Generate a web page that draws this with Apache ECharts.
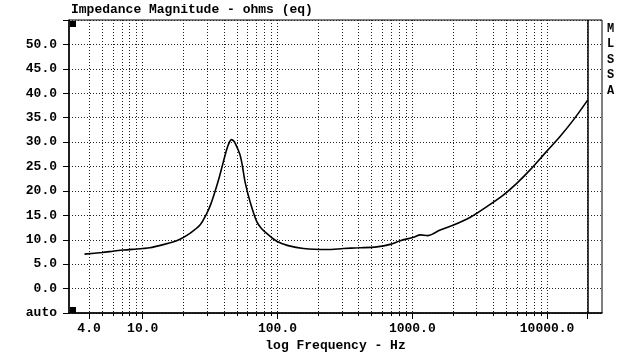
<!DOCTYPE html>
<html>
<head>
<meta charset="utf-8">
<script src="https://cdn.jsdelivr.net/npm/echarts@6/dist/echarts.min.js"></script>
<style>html,body{margin:0;padding:0;background:#fff}#c{width:637px;height:363px}</style>
</head>
<body>
<div id="c"></div>
<script>
const freqHz = [3.7, 5, 6, 7.2, 9, 10, 11.3, 14.2, 17, 18.9, 22.4, 26.6, 29.9, 32, 34.4, 37, 39.7, 42, 44, 45.5, 47, 48.5, 52.7, 55, 57.4, 62.6, 70.2, 76, 83.2, 98.8, 120, 156, 232, 309, 400, 545, 686, 814, 1020, 1150, 1300, 1400, 1611, 2023, 2692, 3580, 4757, 5980, 7420, 9920, 12520, 15740, 20000];
const ohms = [7.05, 7.4, 7.65, 7.9, 8.1, 8.2, 8.35, 9.0, 9.6, 10.1, 11.3, 13.0, 15.4, 17.3, 19.9, 22.8, 26.0, 28.5, 30.0, 30.5, 30.3, 29.8, 27.4, 25.0, 21.9, 17.8, 13.7, 12.3, 11.3, 9.7, 8.8, 8.2, 8.0, 8.2, 8.35, 8.55, 9.05, 9.8, 10.5, 11.0, 10.85, 11.1, 12.0, 13.0, 14.6, 16.8, 19.2, 21.6, 24.2, 28.1, 31.2, 34.6, 38.6];
const gridFreqs = [4,5,6,7,8,9,10,20,30,40,50,60,70,80,90,100,200,300,400,500,600,700,800,900,1000,2000,3000,4000,5000,6000,7000,8000,9000,10000,20000];
const majorTickFreqs = [4,10,100,1000,10000,20000];
const xLabelFreqs = [4,10,100,1000,10000];
const yTicks = [-5,0,5,10,15,20,25,30,35,40,45,50,55];
const endFreq = 20000;

const FONT = 'Liberation Mono';
const chart = echarts.init(document.getElementById('c'), null, {renderer: 'canvas'});
const xMin = 2.84, xMax = 25550;
chart.setOption({
  animation: false,
  backgroundColor: '#fff',
  title: {
    text: 'Impedance Magnitude - ohms (eq)',
    left: 71, top: 3, padding: 0,
    textStyle: {fontFamily: FONT, fontWeight: 'bold', fontSize: 13, color: '#000'}
  },
  grid: {left: 69, right: 35, top: 20, bottom: 50, show: true, borderColor: '#000', borderWidth: 1, containLabel: false, outerBoundsMode: 'none'},
  xAxis: [{
    type: 'log', min: xMin, max: xMax,
    axisLine: {show: true, onZero: false, lineStyle: {color: '#000', width: 1.5}},
    axisTick: {show: true, inside: false, length: 3, customValues: gridFreqs, lineStyle: {color: '#000'}},
    axisLabel: {show: false},
    splitLine: {show: true, lineStyle: {color: '#222', type: [1, 2], width: 1}},
    minorTick: {show: false}, minorSplitLine: {show: false},
    name: 'log Frequency - Hz', nameLocation: 'middle', nameGap: 26,
    nameTextStyle: {fontFamily: FONT, fontWeight: 'bold', fontSize: 13, color: '#000'}
  }, {
    type: 'log', min: xMin, max: xMax, position: 'bottom',
    axisLine: {show: false, onZero: false},
    axisTick: {show: true, length: 6, customValues: majorTickFreqs, lineStyle: {color: '#000'}},
    axisLabel: {show: true, customValues: xLabelFreqs, margin: 9, formatter: v => Number(v).toFixed(1),
      fontFamily: FONT, fontWeight: 'bold', fontSize: 13, color: '#000'},
    splitLine: {show: false}
  }],
  yAxis: {
    type: 'value', min: -5, max: 55, interval: 5,
    axisLine: {show: true, onZero: false, lineStyle: {color: '#000', width: 1.5}},
    axisTick: {show: true, length: 6, customValues: yTicks, lineStyle: {color: '#000'}},
    axisLabel: {margin: 12, fontFamily: FONT, fontWeight: 'bold', fontSize: 13, color: '#000',
      formatter: v => v === -5 ? 'auto' : (v === 55 ? '' : v.toFixed(1))},
    splitLine: {show: true, lineStyle: {color: '#222', type: [1, 2], width: 1}}
  },
  series: [{
    type: 'line', xAxisIndex: 0,
    data: freqHz.map((f, i) => [f, ohms[i]]),
    showSymbol: false, smooth: 0.3,
    lineStyle: {color: '#000', width: 1.6},
    markLine: {silent: true, symbol: 'none', label: {show: false},
      lineStyle: {color: '#000', type: 'solid', width: 1.5},
      data: [{xAxis: endFreq}]}
  }],
  graphic: [
    {type: 'rect', left: 70, top: 21, shape: {width: 6, height: 6}, style: {fill: '#000'}},
    {type: 'rect', left: 70, top: 307, shape: {width: 6, height: 6}, style: {fill: '#000'}},
    {type: 'text', left: 607, top: 21, style: {text: 'M\nL\nS\nS\nA', fontFamily: FONT, fontWeight: 'bold', fontSize: 12, lineHeight: 15.5, fill: '#000'}}
  ]
});
</script>
</body>
</html>
